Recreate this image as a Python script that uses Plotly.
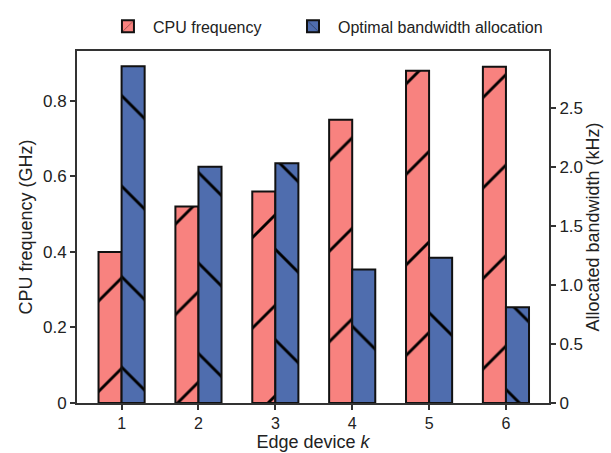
import plotly.graph_objects as go

devices = [1, 2, 3, 4, 5, 6]
cpu_freq = [0.40, 0.52, 0.56, 0.75, 0.88, 0.89]
bandwidth = [2.85, 2.00, 2.03, 1.13, 1.23, 0.81]

left_ticks = [0, 0.2, 0.4, 0.6, 0.8]
left_ticktext = ["0", "0.2", "0.4", "0.6", "0.8"]
right_ticks = [0, 0.5, 1.0, 1.5, 2.0, 2.5]
right_ticktext = ["0", "0.5", "1.0", "1.5", "2.0", "2.5"]

font_family = "Liberation Sans, Arial, sans-serif"
ink = "#222222"

fig = go.Figure()
fig.add_trace(go.Bar(
    x=devices, y=cpu_freq, name="CPU frequency", legend="legend",
    width=0.3, offset=-0.3,
    marker=dict(color="#F8827F", line=dict(color="#111111", width=2),
                pattern=dict(shape="/", fgcolor="#000000", fgopacity=1, size=64, solidity=0.045)),
    yaxis="y",
))
fig.add_trace(go.Bar(
    x=devices, y=bandwidth, name="Optimal bandwidth allocation", legend="legend2",
    width=0.3, offset=0,
    marker=dict(color="#4F6DAE", line=dict(color="#111111", width=2),
                pattern=dict(shape="\\", fgcolor="#000000", fgopacity=1, size=64, solidity=0.045)),
    yaxis="y2",
))

axis_common = dict(
    showline=True, linecolor="#333333", linewidth=2,
    ticks="outside", ticklen=5, tickwidth=1.5, tickcolor="#333333",
    showgrid=False, zeroline=False, tickfont=dict(size=17, color=ink),
)

legend_common = dict(orientation="h", xanchor="left", y=1.07, yanchor="middle",
                     font=dict(size=16, color=ink), itemwidth=40,
                     bgcolor="rgba(0,0,0,0)")

fig.update_layout(
    width=611, height=453,
    margin=dict(l=77, r=62, t=51, b=50, autoexpand=False),
    paper_bgcolor="white", plot_bgcolor="white",
    font=dict(family=font_family, size=17, color=ink),
    showlegend=True,
    legend=dict(x=0.055, **legend_common),
    legend2=dict(x=0.447, **legend_common),
    xaxis=dict(
        range=[0.42, 6.56], tickvals=devices, ticktext=[str(d) for d in devices],
        mirror=True,
        title=dict(text="Edge device <i>k</i>", standoff=3, font=dict(size=18, color=ink)),
        **{**axis_common, "tickfont": dict(size=16, color=ink)},
    ),
    yaxis=dict(
        range=[0, 0.932], tickvals=left_ticks, ticktext=left_ticktext,
        title=dict(text="CPU frequency (GHz)", standoff=6, font=dict(size=18, color=ink)),
        **axis_common,
    ),
    yaxis2=dict(
        range=[0, 2.98], tickvals=right_ticks, ticktext=right_ticktext,
        overlaying="y", side="right",
        title=dict(text="Allocated bandwidth (kHz)", standoff=2, font=dict(size=18, color=ink)),
        **axis_common,
    ),
)

fig.write_html("out.html")
